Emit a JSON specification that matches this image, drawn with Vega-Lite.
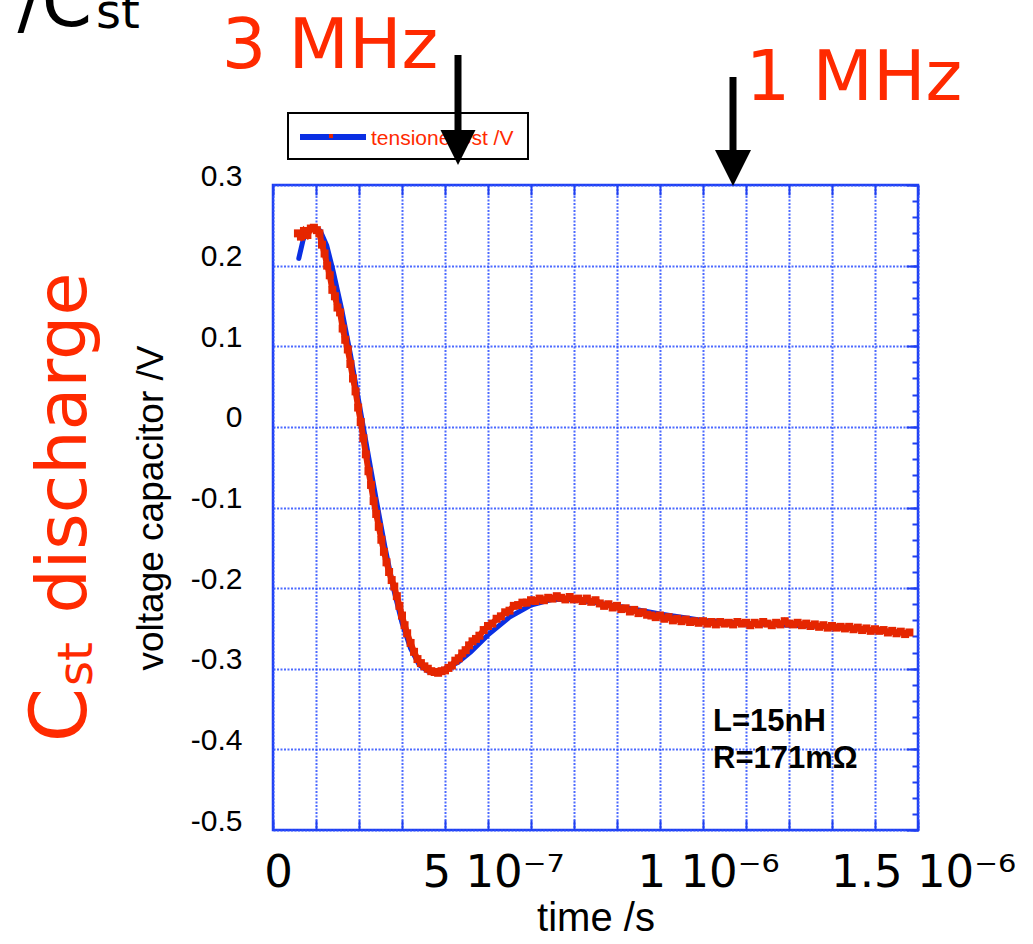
{
  "$schema": "https://vega.github.io/schema/vega-lite/v6.json",
  "width": 645,
  "height": 645,
  "autosize": {"type": "none"},
  "padding": {"left": 273, "top": 185, "right": 115, "bottom": 114},
  "background": "white",
  "config": {
    "view": {"stroke": "#1f3ff0", "strokeWidth": 2.5},
    "axis": {"domain": false, "labelColor": "black", "titleColor": "black", "tickColor": "#1f3ff0", "tickWidth": 2, "gridColor": "#2d50ff", "gridDash": [2, 1.5], "gridWidth": 2, "gridOpacity": 0.85}
  },
  "datasets": {
    "fit": [{"t":6.0e-8,"v":0.209},{"t":7.0e-8,"v":0.232},{"t":8.0e-8,"v":0.243},{"t":9.5e-8,"v":0.248},{"t":1.1e-7,"v":0.243},{"t":1.25e-7,"v":0.225},{"t":1.4e-7,"v":0.193},{"t":1.6e-7,"v":0.145},{"t":1.8e-7,"v":0.090},{"t":2.0e-7,"v":0.030},{"t":2.2e-7,"v":-0.030},{"t":2.4e-7,"v":-0.090},{"t":2.6e-7,"v":-0.148},{"t":2.8e-7,"v":-0.200},{"t":3.0e-7,"v":-0.243},{"t":3.2e-7,"v":-0.275},{"t":3.4e-7,"v":-0.295},{"t":3.6e-7,"v":-0.303},{"t":3.8e-7,"v":-0.304},{"t":4.0e-7,"v":-0.300},{"t":4.3e-7,"v":-0.292},{"t":4.6e-7,"v":-0.279},{"t":5.0e-7,"v":-0.258},{"t":5.5e-7,"v":-0.236},{"t":6.0e-7,"v":-0.221},{"t":6.5e-7,"v":-0.214},{"t":7.0e-7,"v":-0.214},{"t":8.0e-7,"v":-0.222},{"t":9.0e-7,"v":-0.232},{"t":1.0e-6,"v":-0.240},{"t":1.1e-6,"v":-0.244},{"t":1.2e-6,"v":-0.246},{"t":1.3e-6,"v":-0.248},{"t":1.4e-6,"v":-0.252},{"t":1.48e-6,"v":-0.256}],
    "meas": [{"t":5.8e-8,"v":0.240},{"t":6.5e-8,"v":0.236},{"t":7.2e-8,"v":0.243},{"t":8.0e-8,"v":0.238},{"t":8.8e-8,"v":0.246},{"t":9.5e-8,"v":0.247},{"t":1.02e-7,"v":0.244},{"t":1.08e-7,"v":0.240},{"t":1.14e-7,"v":0.226},{"t":1.2e-7,"v":0.215},{"t":1.26e-7,"v":0.200},{"t":1.32e-7,"v":0.188},{"t":1.38e-7,"v":0.170},{"t":1.44e-7,"v":0.162},{"t":1.5e-7,"v":0.148},{"t":1.56e-7,"v":0.142},{"t":1.62e-7,"v":0.122},{"t":1.68e-7,"v":0.108},{"t":1.74e-7,"v":0.096},{"t":1.8e-7,"v":0.078},{"t":1.86e-7,"v":0.060},{"t":1.92e-7,"v":0.044},{"t":1.98e-7,"v":0.024},{"t":2.04e-7,"v":0.006},{"t":2.1e-7,"v":-0.014},{"t":2.16e-7,"v":-0.034},{"t":2.22e-7,"v":-0.055},{"t":2.28e-7,"v":-0.072},{"t":2.34e-7,"v":-0.092},{"t":2.4e-7,"v":-0.108},{"t":2.46e-7,"v":-0.124},{"t":2.52e-7,"v":-0.140},{"t":2.58e-7,"v":-0.155},{"t":2.64e-7,"v":-0.168},{"t":2.7e-7,"v":-0.180},{"t":2.76e-7,"v":-0.190},{"t":2.82e-7,"v":-0.198},{"t":2.88e-7,"v":-0.210},{"t":2.94e-7,"v":-0.222},{"t":3.0e-7,"v":-0.234},{"t":3.06e-7,"v":-0.246},{"t":3.12e-7,"v":-0.256},{"t":3.2e-7,"v":-0.268},{"t":3.28e-7,"v":-0.279},{"t":3.36e-7,"v":-0.288},{"t":3.44e-7,"v":-0.293},{"t":3.52e-7,"v":-0.297},{"t":3.6e-7,"v":-0.300},{"t":3.68e-7,"v":-0.303},{"t":3.76e-7,"v":-0.304},{"t":3.84e-7,"v":-0.305},{"t":3.92e-7,"v":-0.303},{"t":4.0e-7,"v":-0.302},{"t":4.08e-7,"v":-0.299},{"t":4.16e-7,"v":-0.296},{"t":4.24e-7,"v":-0.290},{"t":4.32e-7,"v":-0.287},{"t":4.4e-7,"v":-0.281},{"t":4.48e-7,"v":-0.277},{"t":4.56e-7,"v":-0.271},{"t":4.64e-7,"v":-0.266},{"t":4.72e-7,"v":-0.263},{"t":4.8e-7,"v":-0.259},{"t":4.9e-7,"v":-0.252},{"t":5.0e-7,"v":-0.247},{"t":5.1e-7,"v":-0.244},{"t":5.2e-7,"v":-0.238},{"t":5.3e-7,"v":-0.235},{"t":5.4e-7,"v":-0.230},{"t":5.5e-7,"v":-0.228},{"t":5.6e-7,"v":-0.222},{"t":5.7e-7,"v":-0.221},{"t":5.8e-7,"v":-0.218},{"t":5.9e-7,"v":-0.218},{"t":6.0e-7,"v":-0.215},{"t":6.1e-7,"v":-0.216},{"t":6.2e-7,"v":-0.213},{"t":6.3e-7,"v":-0.215},{"t":6.4e-7,"v":-0.212},{"t":6.5e-7,"v":-0.213},{"t":6.6e-7,"v":-0.210},{"t":6.7e-7,"v":-0.212},{"t":6.8e-7,"v":-0.214},{"t":6.9e-7,"v":-0.211},{"t":7.0e-7,"v":-0.214},{"t":7.1e-7,"v":-0.213},{"t":7.2e-7,"v":-0.216},{"t":7.3e-7,"v":-0.213},{"t":7.4e-7,"v":-0.217},{"t":7.5e-7,"v":-0.215},{"t":7.6e-7,"v":-0.219},{"t":7.7e-7,"v":-0.222},{"t":7.8e-7,"v":-0.220},{"t":7.9e-7,"v":-0.224},{"t":8.0e-7,"v":-0.222},{"t":8.1e-7,"v":-0.226},{"t":8.2e-7,"v":-0.225},{"t":8.3e-7,"v":-0.229},{"t":8.4e-7,"v":-0.227},{"t":8.5e-7,"v":-0.231},{"t":8.6e-7,"v":-0.230},{"t":8.7e-7,"v":-0.233},{"t":8.8e-7,"v":-0.234},{"t":8.9e-7,"v":-0.236},{"t":9.0e-7,"v":-0.234},{"t":9.1e-7,"v":-0.238},{"t":9.2e-7,"v":-0.236},{"t":9.3e-7,"v":-0.240},{"t":9.4e-7,"v":-0.238},{"t":9.5e-7,"v":-0.241},{"t":9.6e-7,"v":-0.239},{"t":9.7e-7,"v":-0.242},{"t":9.8e-7,"v":-0.241},{"t":9.9e-7,"v":-0.243},{"t":1.0e-6,"v":-0.241},{"t":1.01e-6,"v":-0.244},{"t":1.02e-6,"v":-0.242},{"t":1.03e-6,"v":-0.245},{"t":1.04e-6,"v":-0.242},{"t":1.05e-6,"v":-0.244},{"t":1.06e-6,"v":-0.243},{"t":1.07e-6,"v":-0.245},{"t":1.08e-6,"v":-0.242},{"t":1.09e-6,"v":-0.244},{"t":1.1e-6,"v":-0.243},{"t":1.11e-6,"v":-0.246},{"t":1.12e-6,"v":-0.243},{"t":1.13e-6,"v":-0.245},{"t":1.14e-6,"v":-0.242},{"t":1.15e-6,"v":-0.244},{"t":1.16e-6,"v":-0.246},{"t":1.17e-6,"v":-0.243},{"t":1.18e-6,"v":-0.245},{"t":1.19e-6,"v":-0.241},{"t":1.2e-6,"v":-0.244},{"t":1.21e-6,"v":-0.245},{"t":1.22e-6,"v":-0.243},{"t":1.23e-6,"v":-0.246},{"t":1.24e-6,"v":-0.244},{"t":1.25e-6,"v":-0.247},{"t":1.26e-6,"v":-0.245},{"t":1.27e-6,"v":-0.248},{"t":1.28e-6,"v":-0.246},{"t":1.29e-6,"v":-0.249},{"t":1.3e-6,"v":-0.247},{"t":1.31e-6,"v":-0.249},{"t":1.32e-6,"v":-0.248},{"t":1.33e-6,"v":-0.250},{"t":1.34e-6,"v":-0.248},{"t":1.35e-6,"v":-0.251},{"t":1.36e-6,"v":-0.249},{"t":1.37e-6,"v":-0.252},{"t":1.38e-6,"v":-0.250},{"t":1.39e-6,"v":-0.253},{"t":1.4e-6,"v":-0.251},{"t":1.41e-6,"v":-0.253},{"t":1.42e-6,"v":-0.252},{"t":1.43e-6,"v":-0.255},{"t":1.44e-6,"v":-0.253},{"t":1.45e-6,"v":-0.256},{"t":1.46e-6,"v":-0.254},{"t":1.47e-6,"v":-0.257},{"t":1.48e-6,"v":-0.255}]
  },
  "resolve": {"axis": {"x": "independent", "y": "independent"}},
  "layer": [
    {
      "data": {"name": "fit"},
      "mark": {"type": "line", "color": "#0a2fe3", "strokeWidth": 5, "strokeCap": "round"},
      "encoding": {
        "x": {"field": "t", "type": "quantitative", "scale": {"domain": [0, 1.5e-6], "nice": false, "zero": false},
          "axis": {"orient": "bottom", "values": [0,1e-7,2e-7,3e-7,4e-7,5e-7,6e-7,7e-7,8e-7,9e-7,1e-6,1.1e-6,1.2e-6,1.3e-6,1.4e-6,1.5e-6],
            "labelExpr": "abs(datum.value) < 1e-12 ? '0' : abs(datum.value - 5e-7) < 1e-12 ? '5 10⁻⁷' : abs(datum.value - 1e-6) < 1e-12 ? '1 10⁻⁶' : abs(datum.value - 1.5e-6) < 1e-12 ? '1.5 10⁻⁶' : ''",
            "ticks": false, "grid": true, "labelFont": "DejaVu Sans", "labelFontSize": 45, "labelPadding": 20, "labelOffset": 5, "labelLimit": 0, "labelFlush": false, "labelOverlap": false,
            "title": "time /s", "titleFont": "Liberation Sans", "titleFontSize": 40, "titleFontWeight": "normal", "titlePadding": 3}},
        "y": {"field": "v", "type": "quantitative", "scale": {"domain": [-0.5, 0.3], "nice": false, "zero": false},
          "axis": {"orient": "left", "values": [-0.5,-0.4,-0.3,-0.2,-0.1,0,0.1,0.2,0.3],
            "labelExpr": "datum.value == 0 ? '0' : replace(format(datum.value, '.1f'), '−', '-')",
            "ticks": false, "grid": true, "labelFont": "Liberation Sans", "labelFontSize": 30, "labelPadding": 31, "labelBaseline": "alphabetic", "labelFlush": false, "labelOverlap": false,
            "title": "voltage capacitor /V", "titleFont": "Liberation Sans", "titleFontSize": 37, "titleFontWeight": "normal", "titlePadding": 20}}
      }
    },
    {
      "data": {"name": "meas"},
      "mark": {"type": "line", "color": "#e52600", "strokeWidth": 6},
      "encoding": {
        "x": {"field": "t", "type": "quantitative",
          "axis": {"orient": "top", "values": [0,1e-7,2e-7,3e-7,4e-7,5e-7,6e-7,7e-7,8e-7,9e-7,1e-6,1.1e-6,1.2e-6,1.3e-6,1.4e-6,1.5e-6], "labels": false, "grid": false, "ticks": true, "tickSize": -10, "title": null}},
        "y": {"field": "v", "type": "quantitative",
          "axis": {"orient": "right", "values": [-0.5,-0.4,-0.3,-0.2,-0.1,0,0.1,0.2,0.3], "labels": false, "grid": false, "ticks": true, "tickSize": -12, "title": null}}
      }
    },
    {
      "data": {"name": "meas"},
      "mark": {"type": "point", "shape": "square", "filled": true, "color": "#e52600", "size": 64, "opacity": 1},
      "encoding": {
        "x": {"field": "t", "type": "quantitative",
          "axis": {"orient": "bottom", "values": [0,1e-7,2e-7,3e-7,4e-7,5e-7,6e-7,7e-7,8e-7,9e-7,1e-6,1.1e-6,1.2e-6,1.3e-6,1.4e-6,1.5e-6], "labels": false, "grid": false, "ticks": true, "tickSize": -10, "title": null}},
        "y": {"field": "v", "type": "quantitative",
          "axis": {"orient": "right", "values": [-0.5,-0.48,-0.46,-0.44,-0.42,-0.4,-0.38,-0.36,-0.34,-0.32,-0.3,-0.28,-0.26,-0.24,-0.22,-0.2,-0.18,-0.16,-0.14,-0.12,-0.1,-0.08,-0.06,-0.04,-0.02,0,0.02,0.04,0.06,0.08,0.1,0.12,0.14,0.16,0.18,0.2,0.22,0.24,0.26,0.28,0.3], "labels": false, "grid": false, "ticks": true, "tickSize": -6, "title": null}}
      }
    },
    {
      "data": {"values": [{}]},
      "mark": {"type": "rect", "fill": "white", "stroke": "black", "strokeWidth": 2},
      "encoding": {
        "x": {"datum": 3.49e-8, "type": "quantitative", "axis": null}, "x2": {"datum": 5.93e-7},
        "y": {"datum": 0.3893, "type": "quantitative", "axis": null}, "y2": {"datum": 0.3322}
      }
    },
    {
      "data": {"values": [{}]},
      "mark": {"type": "rule", "color": "#0a2fe3", "strokeWidth": 6},
      "encoding": {
        "x": {"datum": 6.28e-8, "type": "quantitative", "axis": null}, "x2": {"datum": 2.163e-7},
        "y": {"datum": 0.3595, "type": "quantitative", "axis": null}
      }
    },
    {
      "data": {"values": [{}]},
      "mark": {"type": "point", "shape": "square", "filled": true, "color": "#e52600", "size": 16, "opacity": 1},
      "encoding": {
        "x": {"datum": 1.349e-7, "type": "quantitative", "axis": null},
        "y": {"datum": 0.3607, "type": "quantitative", "axis": null}
      }
    },
    {
      "data": {"values": [{}]},
      "mark": {"type": "text", "text": "tensione Cst /V", "font": "Liberation Sans", "fontSize": 21, "color": "#ff2a00", "align": "left", "baseline": "alphabetic"},
      "encoding": {
        "x": {"datum": 2.279e-7, "type": "quantitative", "axis": null},
        "y": {"datum": 0.3496, "type": "quantitative", "axis": null}
      }
    },
    {
      "data": {"values": [{}]},
      "mark": {"type": "rule", "color": "black", "strokeWidth": 7},
      "encoding": {
        "x": {"datum": 4.3023e-7, "type": "quantitative", "axis": null},
        "y": {"datum": 0.46124, "type": "quantitative", "axis": null}, "y2": {"datum": 0.35581}
      }
    },
    {
      "data": {"values": [{}]},
      "mark": {"type": "point", "shape": "M-1,-1L1,-1L0,1Z", "filled": true, "color": "black", "size": 1225, "opacity": 1, "strokeWidth": 0},
      "encoding": {
        "x": {"datum": 4.3023e-7, "type": "quantitative", "axis": null},
        "y": {"datum": 0.34651, "type": "quantitative", "axis": null}
      }
    },
    {
      "data": {"values": [{}]},
      "mark": {"type": "rule", "color": "black", "strokeWidth": 7},
      "encoding": {
        "x": {"datum": 1.06977e-6, "type": "quantitative", "axis": null},
        "y": {"datum": 0.43395, "type": "quantitative", "axis": null}, "y2": {"datum": 0.33101}
      }
    },
    {
      "data": {"values": [{}]},
      "mark": {"type": "point", "shape": "M-1,-1L1,-1L0,1Z", "filled": true, "color": "black", "size": 1296, "opacity": 1, "strokeWidth": 0},
      "encoding": {
        "x": {"datum": 1.06977e-6, "type": "quantitative", "axis": null},
        "y": {"datum": 0.32109, "type": "quantitative", "axis": null}
      }
    },
    {
      "data": {"values": [{}]},
      "mark": {"type": "text", "text": "3 MHz", "font": "DejaVu Sans", "fontSize": 70, "color": "#ff2a00", "align": "center", "baseline": "alphabetic"},
      "encoding": {
        "x": {"datum": 1.3256e-7, "type": "quantitative", "axis": null},
        "y": {"datum": 0.4451, "type": "quantitative", "axis": null}
      }
    },
    {
      "data": {"values": [{}]},
      "mark": {"type": "text", "text": "1 MHz", "font": "DejaVu Sans", "fontSize": 70, "color": "#ff2a00", "align": "center", "baseline": "alphabetic"},
      "encoding": {
        "x": {"datum": 1.3512e-6, "type": "quantitative", "axis": null},
        "y": {"datum": 0.4054, "type": "quantitative", "axis": null}
      }
    },
    {
      "data": {"values": [{}]},
      "mark": {"type": "text", "text": "/C", "font": "DejaVu Sans", "fontSize": 72, "color": "black", "align": "right", "baseline": "alphabetic"},
      "encoding": {
        "x": {"datum": -4.209e-7, "type": "quantitative", "axis": null},
        "y": {"datum": 0.4972, "type": "quantitative", "axis": null}
      }
    },
    {
      "data": {"values": [{}]},
      "mark": {"type": "text", "text": "st", "font": "DejaVu Sans", "fontSize": 48, "color": "black", "align": "left", "baseline": "alphabetic"},
      "encoding": {
        "x": {"datum": -4.1163e-7, "type": "quantitative", "axis": null},
        "y": {"datum": 0.4947, "type": "quantitative", "axis": null}
      }
    },
    {
      "data": {"values": [{}]},
      "mark": {"type": "text", "text": "discharge", "font": "DejaVu Sans", "fontSize": 70, "color": "#ff2a00", "align": "center", "baseline": "alphabetic", "angle": 270},
      "encoding": {
        "x": {"datum": -4.349e-7, "type": "quantitative", "axis": null},
        "y": {"datum": -0.02, "type": "quantitative", "axis": null}
      }
    },
    {
      "data": {"values": [{}]},
      "mark": {"type": "text", "text": "C", "font": "DejaVu Sans", "fontSize": 78, "color": "#ff2a00", "align": "center", "baseline": "alphabetic", "angle": 270},
      "encoding": {
        "x": {"datum": -4.349e-7, "type": "quantitative", "axis": null},
        "y": {"datum": -0.3574, "type": "quantitative", "axis": null}
      }
    },
    {
      "data": {"values": [{}]},
      "mark": {"type": "text", "text": "st", "font": "DejaVu Sans", "fontSize": 48, "color": "#ff2a00", "align": "center", "baseline": "alphabetic", "angle": 270},
      "encoding": {
        "x": {"datum": -4.209e-7, "type": "quantitative", "axis": null},
        "y": {"datum": -0.2941, "type": "quantitative", "axis": null}
      }
    },
    {
      "data": {"values": [{}]},
      "mark": {"type": "text", "text": "L=15nH", "font": "Liberation Sans", "fontSize": 31, "fontWeight": "bold", "color": "black", "align": "left", "baseline": "alphabetic"},
      "encoding": {
        "x": {"datum": 1.0233e-6, "type": "quantitative", "axis": null},
        "y": {"datum": -0.3772, "type": "quantitative", "axis": null}
      }
    },
    {
      "data": {"values": [{}]},
      "mark": {"type": "text", "text": "R=171mΩ", "font": "Liberation Sans", "fontSize": 31, "fontWeight": "bold", "color": "black", "align": "left", "baseline": "alphabetic"},
      "encoding": {
        "x": {"datum": 1.0233e-6, "type": "quantitative", "axis": null},
        "y": {"datum": -0.4231, "type": "quantitative", "axis": null}
      }
    }
  ]
}
